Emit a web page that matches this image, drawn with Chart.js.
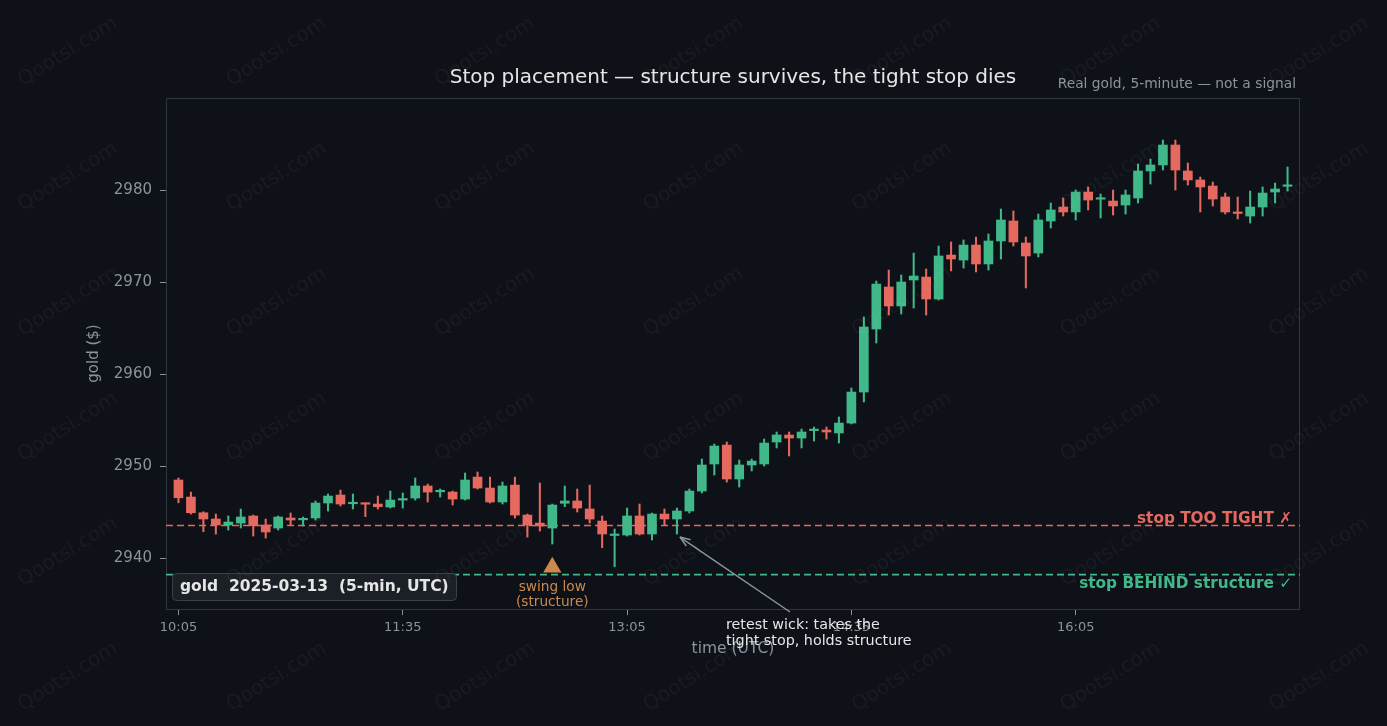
<!DOCTYPE html>
<html>
<head>
<meta charset="utf-8">
<script src="https://cdn.jsdelivr.net/npm/chart.js@4/dist/chart.umd.min.js"></script>
<style>
  html, body { margin: 0; padding: 0; background: #0e1117; }
  canvas { display: block; }
</style>
</head>
<body>
<canvas id="c" width="1387" height="726"></canvas>
<script>
// 5-min candles, gold, 2025-03-13 10:05 .. 17:30 UTC
const openP = [
  2948.48, 2946.63, 2944.92, 2944.24, 2943.59, 2943.80, 2944.57, 2943.59, 2943.26, 2944.35,
  2944.15, 2944.35, 2945.98, 2946.85, 2945.90, 2946.00, 2945.87, 2945.54, 2946.30, 2946.52,
  2947.83, 2947.20, 2947.17, 2946.41, 2948.80, 2947.61, 2946.09, 2947.93, 2944.67, 2943.80,
  2943.26, 2945.95, 2946.20, 2945.33, 2944.02, 2942.45, 2942.50, 2944.57, 2942.61, 2944.78,
  2944.24, 2945.11, 2947.28, 2950.22, 2952.28, 2948.59, 2950.11, 2950.22, 2952.61, 2953.37,
  2953.04, 2953.85, 2953.91, 2953.59, 2954.67, 2958.04, 2964.89, 2969.46, 2967.39, 2970.22,
  2970.54, 2968.15, 2972.93, 2972.39, 2974.02, 2971.96, 2974.46, 2976.63, 2974.24, 2973.15,
  2976.63, 2978.15, 2977.61, 2979.78, 2979.00, 2978.80, 2978.37, 2979.13, 2982.07, 2982.72,
  2984.89, 2982.07, 2981.09, 2980.43, 2979.24, 2977.61, 2977.17, 2978.15, 2979.78, 2980.40
]
const highP = [
  2948.70, 2947.17, 2945.03, 2944.78, 2944.57, 2945.33, 2944.67, 2944.24, 2944.57, 2944.89,
  2944.46, 2946.20, 2946.96, 2947.39, 2946.96, 2946.00, 2946.74, 2947.28, 2947.07, 2948.70,
  2948.04, 2947.50, 2947.28, 2949.24, 2949.35, 2948.80, 2948.26, 2948.80, 2944.78, 2948.15,
  2945.87, 2947.83, 2947.50, 2947.93, 2944.57, 2943.15, 2945.43, 2945.87, 2944.89, 2945.33,
  2945.43, 2947.50, 2950.76, 2952.39, 2952.61, 2950.65, 2950.76, 2952.93, 2953.70, 2953.70,
  2954.02, 2954.24, 2954.24, 2955.33, 2958.48, 2966.20, 2970.11, 2971.30, 2970.76, 2973.15,
  2971.41, 2973.91, 2974.35, 2974.57, 2974.89, 2975.22, 2977.93, 2977.72, 2974.89, 2977.39,
  2978.59, 2979.13, 2980.00, 2980.33, 2979.57, 2980.00, 2980.00, 2982.83, 2983.37, 2985.43,
  2985.43, 2982.93, 2981.41, 2980.87, 2979.67, 2979.24, 2979.89, 2980.33, 2980.76, 2982.50
]
const lowP = [
  2946.00, 2944.78, 2942.86, 2942.60, 2943.04, 2943.26, 2942.39, 2942.17, 2943.04, 2943.59,
  2943.48, 2944.13, 2945.11, 2945.65, 2945.33, 2944.50, 2945.33, 2945.43, 2945.43, 2946.30,
  2946.09, 2946.63, 2945.76, 2946.30, 2947.50, 2945.98, 2945.87, 2944.35, 2942.28, 2942.93,
  2941.52, 2945.58, 2945.00, 2943.80, 2941.12, 2939.05, 2942.39, 2942.50, 2941.96, 2943.59,
  2942.61, 2944.89, 2947.07, 2949.02, 2948.26, 2947.72, 2949.46, 2950.00, 2951.96, 2951.09,
  2951.96, 2952.72, 2952.93, 2952.50, 2954.57, 2956.96, 2963.37, 2966.41, 2966.52, 2967.17,
  2966.41, 2968.04, 2971.20, 2971.52, 2971.09, 2971.30, 2972.50, 2973.91, 2969.35, 2972.72,
  2975.87, 2977.17, 2976.74, 2977.83, 2976.96, 2977.28, 2977.39, 2978.59, 2980.65, 2982.17,
  2980.00, 2980.54, 2977.61, 2978.26, 2977.39, 2976.85, 2976.41, 2977.17, 2978.59, 2979.89
]
const closeP = [
  2946.55, 2944.92, 2944.24, 2943.59, 2943.91, 2944.46, 2943.51, 2942.83, 2944.46, 2944.13,
  2944.25, 2945.98, 2946.74, 2945.87, 2946.00, 2945.85, 2945.58, 2946.30, 2946.40, 2947.83,
  2947.17, 2947.30, 2946.41, 2948.48, 2947.61, 2946.09, 2947.83, 2944.67, 2943.59, 2943.48,
  2945.76, 2946.20, 2945.43, 2944.24, 2942.61, 2942.55, 2944.57, 2942.61, 2944.78, 2944.24,
  2945.11, 2947.28, 2950.11, 2952.17, 2948.59, 2950.11, 2950.54, 2952.50, 2953.37, 2953.04,
  2953.70, 2953.95, 2953.70, 2954.67, 2958.04, 2965.11, 2969.78, 2967.39, 2970.00, 2970.65,
  2968.15, 2972.83, 2972.50, 2974.02, 2971.96, 2974.46, 2976.74, 2974.35, 2972.83, 2976.74,
  2977.83, 2977.61, 2979.78, 2978.91, 2979.10, 2978.26, 2979.46, 2982.07, 2982.72, 2984.89,
  2982.17, 2981.09, 2980.33, 2979.02, 2977.61, 2977.45, 2978.15, 2979.67, 2980.11, 2980.55
]

const xTickIdx = [0, 18, 36, 54, 72]
const xTickLabels = ["10:05", "11:35", "13:05", "14:35", "16:05"]
const yTicks = [2940, 2950, 2960, 2970, 2980]

const stopTight = 2943.53
const stopStructure = 2938.2
const swingLowIdx = 30
const swingLowMark = 2939.0
const retestIdx = 40

const UP = "#40b88a"
const DOWN = "#e6695f"
const MUTED = "#8b949e"
const TEXT = "#e6e6e6"
const FONT = "'DejaVu Sans', sans-serif"

const colors = openP.map((o, i) => closeP[i] >= o ? UP : DOWN)
const bodies = openP.map((o, i) => ({ x: i, y: [o, closeP[i]] }))
const wicks = lowP.map((l, i) => ({ x: i, y: [l, highP[i]] }))

const decor = {
  id: "decor",
  beforeDraw(chart) {
    const ctx = chart.ctx
    ctx.save()
    ctx.fillStyle = "#0e1117"
    ctx.fillRect(0, 0, chart.width, chart.height)
    ctx.restore()
  },
  beforeDatasetsDraw(chart) {
    const { ctx, chartArea: a } = chart
    ctx.save()
    ctx.strokeStyle = "#30363d"
    ctx.lineWidth = 1
    ctx.strokeRect(a.left + 0.5, a.top + 0.5, a.right - a.left - 1, a.bottom - a.top)
    ctx.restore()
  },
  afterDraw(chart) {
    const { ctx, chartArea: a, scales: { x, y } } = chart
    ctx.save()

    // title + subtitle
    ctx.textBaseline = "middle"
    ctx.fillStyle = TEXT
    ctx.font = "20px " + FONT
    ctx.textAlign = "center"
    ctx.fillText("Stop placement — structure survives, the tight stop dies", (a.left + a.right) / 2, 78)
    ctx.fillStyle = MUTED
    ctx.font = "13.8px " + FONT
    ctx.textAlign = "right"
    ctx.fillText("Real gold, 5-minute — not a signal", 1296, 84)

    // stop labels
    ctx.font = "bold 15.3px " + FONT
    ctx.fillStyle = DOWN
    ctx.fillText("stop TOO TIGHT ✗", a.right - 8, y.getPixelForValue(stopTight) - 7)
    ctx.fillStyle = UP
    ctx.fillText("stop BEHIND structure ✓", a.right - 8, y.getPixelForValue(stopStructure) + 9)

    // swing low label
    ctx.font = "13.7px " + FONT
    ctx.fillStyle = "#c98a4b"
    ctx.textAlign = "center"
    const sx = x.getPixelForValue(swingLowIdx)
    ctx.fillText("swing low", sx, 587)
    ctx.fillText("(structure)", sx, 602)

    // retest annotation arrow
    const tx = x.getPixelForValue(retestIdx) + 3
    const ty = y.getPixelForValue(lowP[retestIdx]) + 3
    const fx = 790, fy = 612
    ctx.strokeStyle = MUTED
    ctx.lineWidth = 1.5
    ctx.beginPath()
    ctx.moveTo(fx, fy)
    ctx.lineTo(tx, ty)
    ctx.stroke()
    const ang = Math.atan2(ty - fy, tx - fx)
    ctx.beginPath()
    ctx.moveTo(tx, ty)
    ctx.lineTo(tx - 11 * Math.cos(ang - 0.35), ty - 11 * Math.sin(ang - 0.35))
    ctx.moveTo(tx, ty)
    ctx.lineTo(tx - 11 * Math.cos(ang + 0.35), ty - 11 * Math.sin(ang + 0.35))
    ctx.stroke()
    ctx.fillStyle = TEXT
    ctx.font = "14.3px " + FONT
    ctx.textAlign = "left"
    ctx.fillText("retest wick: takes the", 726, 625)
    ctx.fillText("tight stop, holds structure", 726, 641)

    // legend-ish box
    ctx.fillStyle = "#1b1f26"
    ctx.strokeStyle = "#3a4049"
    ctx.lineWidth = 1
    ctx.beginPath()
    ctx.roundRect(172.5, 573.5, 284, 27, 4)
    ctx.fill()
    ctx.stroke()
    ctx.fillStyle = TEXT
    ctx.font = "bold 15.5px " + FONT
    ctx.fillText("gold  2025-03-13  (5-min, UTC)", 180, 587)

    // watermark
    ctx.font = "20px " + FONT
    ctx.fillStyle = "rgba(255,255,255,0.045)"
    ctx.textAlign = "center"
    for (let r = 0; r < 6; r++) {
      for (let c = 0; c < 7; c++) {
        ctx.save()
        ctx.translate(68 + c * 208.5, 52 + r * 125)
        ctx.rotate(-0.56)
        ctx.fillText("Qootsi.com", 0, 0)
        ctx.restore()
      }
    }
    ctx.restore()
  }
}

new Chart(document.getElementById("c"), {
  type: "bar",
  data: {
    datasets: [
      {
        type: "line",
        data: [{ x: -1, y: stopTight }, { x: 90, y: stopTight }],
        borderColor: DOWN,
        borderWidth: 1.6,
        borderDash: [7, 4],
        pointRadius: 0,
        order: 3
      },
      {
        type: "line",
        data: [{ x: -1, y: stopStructure }, { x: 90, y: stopStructure }],
        borderColor: UP,
        borderWidth: 1.6,
        borderDash: [7, 4],
        pointRadius: 0,
        order: 3
      },
      {
        data: wicks,
        backgroundColor: colors,
        barThickness: 1.4,
        grouped: false,
        order: 2
      },
      {
        data: bodies,
        backgroundColor: colors,
        barThickness: 9,
        minBarLength: 1.5,
        grouped: false,
        order: 1
      },
      {
        type: "scatter",
        data: [{ x: swingLowIdx, y: swingLowMark }],
        pointStyle: "triangle",
        pointRadius: 10.5,
        backgroundColor: "#c98a4b",
        borderColor: "#c98a4b",
        borderWidth: 0,
        order: 0
      }
    ]
  },
  options: {
    responsive: false,
    animation: false,
    layout: { padding: { top: 98, right: 87, left: 0, bottom: 0 } },
    plugins: {
      legend: { display: false },
      tooltip: { enabled: false }
    },
    scales: {
      x: {
        type: "linear",
        min: -1,
        max: 90,
        offset: false,
        afterBuildTicks: s => { s.ticks = xTickIdx.map(v => ({ value: v })) },
        afterFit: s => { s.height = 117 },
        grid: { display: true, offset: false, drawOnChartArea: false, drawTicks: true, tickLength: 6, color: MUTED },
        border: { display: false },
        ticks: {
          color: MUTED,
          font: { family: FONT, size: 13 },
          padding: 5,
          maxRotation: 0,
          autoSkip: false,
          callback: v => xTickLabels[xTickIdx.indexOf(v)]
        },
        title: {
          display: true,
          text: "time (UTC)",
          color: MUTED,
          font: { family: FONT, size: 15.5 },
          padding: { top: 0, bottom: 68 }
        }
      },
      y: {
        min: 2934.46,
        max: 2990,
        afterBuildTicks: s => { s.ticks = yTicks.map(v => ({ value: v })) },
        afterFit: s => { s.width = 166 },
        grid: { display: true, drawOnChartArea: false, drawTicks: true, tickLength: 6, color: MUTED },
        border: { display: false },
        ticks: {
          color: MUTED,
          font: { family: FONT, size: 15 },
          padding: 8,
          callback: v => String(v)
        },
        title: {
          display: true,
          text: "gold ($)",
          color: MUTED,
          font: { family: FONT, size: 15 },
          padding: { top: 85, bottom: 0 }
        }
      }
    }
  },
  plugins: [decor]
})
</script>
</body>
</html>
